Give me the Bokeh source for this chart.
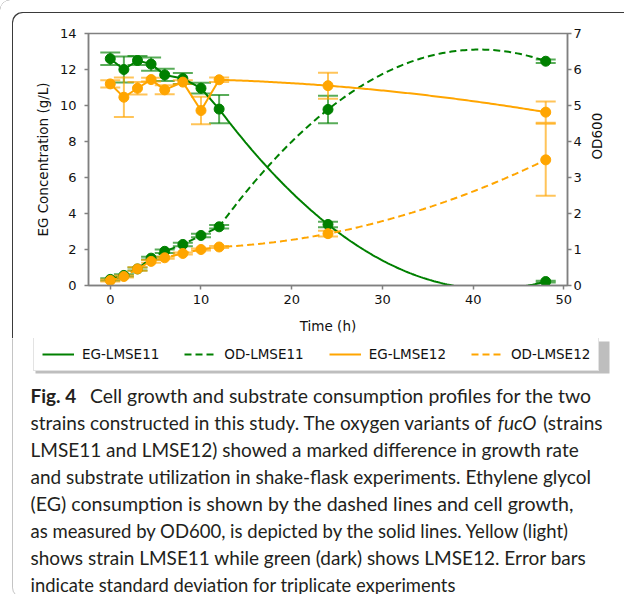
import math
import numpy as np
from bokeh.plotting import figure
from bokeh.models import (Range1d, LinearAxis, FixedTicker, ColumnDataSource, Whisker, TeeHead,
                          Legend, LegendItem, BoxAnnotation)
from bokeh.core.properties import value
from bokeh.embed import file_html
from bokeh.resources import INLINE

# ---------------- data ----------------
time_h = [0, 1.5, 3, 4.5, 6, 8, 10, 12, 24, 48]

eg_lmse11 = [12.6, 12.0, 12.5, 12.3, 11.7, 11.5, 10.96, 9.8, 3.39, 0.22]
eg_lmse11_err = [0.35, 0.72, 0.25, 0.37, 0.34, 0.3, 0.3, 0.78, 0.15, 0.05]
od_lmse11 = [0.17, 0.28, 0.46, 0.76, 0.95, 1.14, 1.39, 1.63, 4.89, 6.23]
od_lmse11_err = [0.03, 0.03, 0.04, 0.04, 0.05, 0.05, 0.05, 0.05, 0.38, 0.05]

eg_lmse12 = [11.2, 10.46, 10.96, 11.44, 10.87, 11.3, 9.72, 11.43, 11.1, 9.63]
eg_lmse12_err = [0.2, 1.1, 0.35, 0.1, 0.25, 0.1, 0.76, 0.12, 0.72, 0.59]
od_lmse12 = [0.14, 0.25, 0.46, 0.67, 0.77, 0.89, 1.0, 1.07, 1.44, 3.49]
od_lmse12_err = [0.03, 0.03, 0.05, 0.04, 0.03, 0.03, 0.03, 0.03, 0.08, 1.0]

x_ticks = [0, 10, 20, 30, 40, 50]
eg_ticks = [0, 2, 4, 6, 8, 10, 12, 14]
od_ticks = [0, 1, 2, 3, 4, 5, 6, 7]

series_names = ["EG-LMSE11", "OD-LMSE11", "EG-LMSE12", "OD-LMSE12"]

caption_bold = "Fig. 4"
caption_lines = [
    "Cell growth and substrate consumption profiles for the two",
    "strains constructed in this study. The oxygen variants of",
    "LMSE11 and LMSE12) showed a marked difference in growth rate",
    "and substrate utilization in shake-flask experiments. Ethylene glycol",
    "(EG) consumption is shown by the dashed lines and cell growth,",
    "as measured by OD600, is depicted by the solid lines. Yellow (light)",
    "shows strain LMSE11 while green (dark) shows LMSE12. Error bars",
    "indicate standard deviation for triplicate experiments",
]
caption_italic = "fucO"
caption_after_italic = "(strains"

GREEN = "#008000"
ORANGE = "#FFA500"
AXIS_GRAY = "#808080"
TICK_FONT = "DejaVu Sans"
EDGE = "#3a3a3a"

# ---------------- chart figure (page y 0..338) ----------------
W = 630
H1 = 338
p = figure(width=W, height=H1, output_backend="svg", toolbar_location=None,
           x_range=Range1d(-2.4, 50.4), y_range=Range1d(0, 14),
           min_border_left=88, min_border_right=W - 567, min_border_top=33, min_border_bottom=H1 - 285,
           background_fill_color="white", border_fill_color=None,
           styles={"vertical-align": "top", "height": f"{H1}px", "overflow": "hidden",
                   "border-top-left-radius": "10px",
                   "box-shadow": "inset -6px 0 0 0 #ffffff, inset 12px 12px 0 0 #ffffff, inset 13px 13px 0 0 " + EDGE})
p.extra_y_ranges = {"od": Range1d(0, 7)}
p.grid.visible = False
p.outline_line_color = AXIS_GRAY
p.outline_line_width = 1.5

right_axis = LinearAxis(y_range_name="od", axis_label="OD600")
p.add_layout(right_axis, "right")

for ax in [p.xaxis[0], p.yaxis[0], right_axis]:
    ax.axis_line_color = AXIS_GRAY
    ax.axis_line_width = 1.5
    ax.major_tick_line_color = AXIS_GRAY
    ax.major_tick_line_width = 1.5
    ax.major_tick_out = 4
    ax.major_tick_in = 0
    ax.minor_tick_line_color = None
    ax.major_label_text_font = TICK_FONT
    ax.major_label_text_font_size = "13px"
    ax.major_label_text_color = "#111111"
    ax.axis_label_text_font = TICK_FONT
    ax.axis_label_text_font_size = "13.5px"
    ax.axis_label_text_font_style = "normal"
    ax.axis_label_text_color = "#111111"

p.xaxis[0].major_label_standoff = 5
p.yaxis[0].major_label_standoff = 8
right_axis.major_label_standoff = 2

try:
    right_axis.axis_label_orientation = math.pi / 2
except Exception:
    pass

p.xaxis[0].ticker = FixedTicker(ticks=x_ticks)
p.yaxis[0].ticker = FixedTicker(ticks=eg_ticks)
right_axis.ticker = FixedTicker(ticks=od_ticks)
p.xaxis[0].axis_label = "Time (h)"
p.yaxis[0].axis_label = "EG Concentration (g/L)"
p.xaxis[0].axis_label_standoff = 11
p.yaxis[0].axis_label_standoff = 6
right_axis.axis_label_standoff = 12


def trend(t, y):
    """straight segments over the dense early points, smooth quadratic through the last three."""
    t = np.asarray(t, float)
    y = np.asarray(y, float)
    k = int(np.searchsorted(t, 12))
    coef = np.polyfit(t[k:], y[k:], 2)
    ts = np.linspace(t[k], t[-1], 150)
    return (np.concatenate([t[:k + 1], ts[1:]]),
            np.concatenate([y[:k + 1], np.polyval(coef, ts)[1:]]))


def add_series(vals, errs, color, dash, rng):
    kw = {} if rng is None else {"y_range_name": rng}
    lo = [v - e for v, e in zip(vals, errs)]
    hi = [v + e for v, e in zip(vals, errs)]
    src = ColumnDataSource(dict(t=time_h, lower=lo, upper=hi))
    w = Whisker(source=src, base="t", lower="lower", upper="upper", dimension="height",
                line_color=color, line_alpha=0.65, line_width=2,
                upper_head=TeeHead(size=20, line_color=color, line_alpha=0.65, line_width=2),
                lower_head=TeeHead(size=20, line_color=color, line_alpha=0.65, line_width=2),
                **kw)
    p.add_layout(w)
    tx, ty = trend(time_h, vals)
    p.line(tx, ty, line_color=color, line_width=2, line_dash=dash, **kw)
    p.scatter(time_h, vals, size=10, fill_color=color, line_color=color, **kw)


add_series(eg_lmse11, eg_lmse11_err, GREEN, "solid", None)
add_series(od_lmse11, od_lmse11_err, GREEN, "7 4", "od")
add_series(eg_lmse12, eg_lmse12_err, ORANGE, "solid", None)
add_series(od_lmse12, od_lmse12_err, ORANGE, "7 4", "od")

# ---------------- legend + caption figure (page y 338..594) ----------------
TOP2 = 338
H2 = 256
cap = figure(width=W, height=H2, output_backend="svg", toolbar_location=None,
             x_range=Range1d(0, W), y_range=Range1d(H2, 0),
             min_border=0, min_border_left=0, min_border_right=0, min_border_top=0, min_border_bottom=0,
             background_fill_color="white", border_fill_color="white",
             styles={"vertical-align": "top", "height": f"{H2}px", "overflow": "hidden"})
cap.axis.visible = False
cap.grid.visible = False
cap.outline_line_color = None

# panel frame (left edge with rounded bottom corner)
cap.add_layout(BoxAnnotation(left=12, right=W + 40, top=-40, bottom=597 - TOP2,
                             fill_alpha=0, line_color=EDGE, line_width=1, border_radius=10))

# legend shadow + legend (legend samples carry the same styles as the chart's lines;
# their data are NaN so they draw nothing on the canvas themselves)
cap.add_layout(BoxAnnotation(left=35, right=609, top=341 - TOP2, bottom=373 - TOP2,
                             fill_color="#888888", fill_alpha=0.55, line_color=None, level="underlay"))
styles = [(GREEN, "solid"), (GREEN, "7 4"), (ORANGE, "solid"), (ORANGE, "7 4")]
leg_renderers = [cap.line(x=[np.nan, np.nan], y=[np.nan, np.nan], line_color=c, line_width=2, line_dash=d)
                 for c, d in styles]
legend = Legend(items=[LegendItem(label=n, renderers=[r]) for n, r in zip(series_names, leg_renderers)],
                orientation="horizontal", location=(33, H2 - (371 - TOP2)),
                glyph_width=32, glyph_height=16, label_height=16, label_standoff=8, spacing=25,
                padding=8, margin=0,
                label_text_font=TICK_FONT, label_text_font_size="13.5px", label_text_color="#111111",
                border_line_color="#c8c8c8", border_line_width=1, background_fill_color="white",
                background_fill_alpha=1.0)
cap.add_layout(legend)

# caption text
CAP_FONT = value("Lato")
line_sizes = ["19.4px", "19px", "19px", "19px", "19.6px", "18.5px", "19px", "18.4px"]
baselines = [395, 422, 449, 476, 503, 530, 557, 584]
x_start = 30
kw = dict(text_font=CAP_FONT, text_color="#231f20", text_baseline="alphabetic")
cap.text(x=[x_start], y=[baselines[0] - TOP2], text=[caption_bold], text_font_style="bold",
         text_align="left", text_font_size=value("19px"), **kw)
cap.text(x=[591], y=[baselines[0] - TOP2], text=[caption_lines[0]], text_align="right",
         text_font_size=value(line_sizes[0]), **kw)
cap.text(x=[x_start], y=[baselines[1] - TOP2], text=[caption_lines[1]], text_align="left",
         text_font_size=value(line_sizes[1]), **kw)
cap.text(x=[536], y=[baselines[1] - TOP2], text=[caption_italic], text_font_style="italic",
         text_align="right", text_font_size=value(line_sizes[1]), **kw)
cap.text(x=[602], y=[baselines[1] - TOP2], text=[caption_after_italic], text_align="right",
         text_font_size=value(line_sizes[1]), **kw)
for i in range(2, 8):
    cap.text(x=[x_start], y=[baselines[i] - TOP2], text=[caption_lines[i]], text_align="left",
             text_font_size=value(line_sizes[i]), **kw)

open("out.html", "w").write(file_html((p, cap), INLINE))
